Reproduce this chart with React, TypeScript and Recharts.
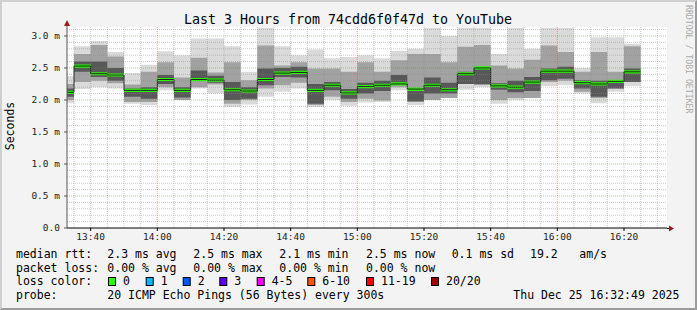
import React from 'react';
import { ComposedChart, Area, Line, XAxis, YAxis, CartesianGrid, ReferenceLine } from 'recharts';

// 5 minute bins, start time of each step
const binTimes = [
  '13:30', '13:35', '13:40', '13:45', '13:50', '13:55', '14:00', '14:05', '14:10', '14:15',
  '14:20', '14:25', '14:30', '14:35', '14:40', '14:45', '14:50', '14:55', '15:00', '15:05',
  '15:10', '15:15', '15:20', '15:25', '15:30', '15:35', '15:40', '15:45', '15:50', '15:55',
  '16:00', '16:05', '16:10', '16:15', '16:20',
];

// rtt in ms
const pingMin = [
  1.95, 2.17, 2.20, 2.18, 1.94, 1.92, 2.15, 2.00, 2.18, 2.10,
  1.89, 1.93, 2.05, 2.13, 2.18, 1.89, 2.00, 1.91, 1.96, 1.97,
  2.15, 1.92, 2.00, 2.03, 2.16, 2.20, 1.94, 2.00, 2.03, 2.22,
  2.23, 2.10, 1.95, 2.13, 2.22,
];
const pingMax = [
  2.37, 2.84, 2.92, 2.75, 2.42, 2.55, 2.76, 2.70, 2.96, 2.96,
  2.84, 2.44, 3.13, 2.84, 2.70, 2.79, 2.65, 2.67, 2.70, 2.65,
  2.77, 2.80, 3.13, 3.00, 3.13, 3.13, 2.72, 3.13, 2.80, 3.13,
  3.13, 2.50, 2.98, 2.98, 2.88,
];
const midLow = [
  2.00, 2.28, 2.30, 2.26, 1.97, 1.97, 2.20, 2.00, 2.20, 2.24,
  1.94, 2.00, 2.18, 2.23, 2.27, 1.92, 2.05, 1.97, 2.02, 1.99,
  2.20, 1.97, 2.00, 2.03, 2.25, 2.26, 2.00, 2.03, 2.03, 2.28,
  2.30, 2.13, 2.03, 2.18, 2.28,
];
const midHigh = [
  2.25, 2.72, 2.86, 2.68, 2.24, 2.44, 2.59, 2.35, 2.66, 2.43,
  2.59, 2.31, 2.85, 2.54, 2.59, 2.49, 2.49, 2.44, 2.59, 2.44,
  2.62, 2.72, 2.72, 2.59, 2.83, 2.86, 2.54, 2.49, 2.63, 2.85,
  2.75, 2.44, 2.75, 2.44, 2.84,
];
const darkLow = [
  2.05, 2.44, 2.36, 2.30, 2.05, 2.02, 2.25, 2.04, 2.33, 2.27,
  2.00, 2.02, 2.23, 2.36, 2.35, 1.94, 2.15, 2.02, 2.10, 2.14,
  2.25, 1.98, 2.10, 2.10, 2.25, 2.24, 2.16, 2.12, 2.14, 2.31,
  2.33, 2.18, 2.05, 2.18, 2.28,
];
const darkHigh = [
  2.18, 2.60, 2.60, 2.50, 2.18, 2.20, 2.39, 2.20, 2.46, 2.38,
  2.28, 2.20, 2.49, 2.50, 2.52, 2.25, 2.28, 2.17, 2.27, 2.30,
  2.39, 2.14, 2.35, 2.27, 2.44, 2.50, 2.26, 2.30, 2.36, 2.49,
  2.52, 2.31, 2.30, 2.31, 2.49,
];
const medianRtt = [
  2.12, 2.53, 2.41, 2.39, 2.15, 2.15, 2.32, 2.15, 2.32, 2.31,
  2.16, 2.14, 2.32, 2.42, 2.43, 2.15, 2.23, 2.11, 2.21, 2.23,
  2.25, 2.17, 2.23, 2.16, 2.41, 2.50, 2.22, 2.20, 2.28, 2.45,
  2.45, 2.27, 2.25, 2.29, 2.44,
];

const timeTicks = ['13:40', '14:00', '14:20', '14:40', '15:00', '15:20', '15:40', '16:00', '16:20'];
const yTicks = [0, 0.5, 1.0, 1.5, 2.0, 2.5, 3.0];

const toMin = (s: string) => {
  const [h, m] = s.split(':').map(Number);
  return h * 60 + m;
};
const fmtTime = (v: number) => `${Math.floor(v / 60)}:${String(Math.round(v % 60)).padStart(2, '0')}`;

// median band half thickness (smokeping draws the loss colour as a thin area)
const MED_W = 0.025;

const rows = binTimes.map((t, i) => ({
  t: toMin(t),
  outer: [pingMin[i], pingMax[i]],
  mid: [midLow[i], midHigh[i]],
  dark: [darkLow[i], darkHigh[i]],
  med: medianRtt[i],
  green: [medianRtt[i] - MED_W, medianRtt[i] + MED_W],
}));
// closing point so the last step gets its width
const last = rows[rows.length - 1];
const chartData = [...rows, { ...last, t: last.t + 5 }];

const X_START = 812.9;
const X_END = X_START + 180;

const minorX: number[] = [];
for (let m = 815; m <= 990; m += 5) if (m % 60 !== 0) minorX.push(m);
const majorX = [840, 900, 960];
const minorY: number[] = [];
for (let k = 1; k <= 31; k++) if (k % 5 !== 0) minorY.push(k / 10);
const majorY = [0.5, 1.0, 1.5, 2.0, 2.5, 3.0];

const mono = '"DejaVu Sans Mono", monospace';

const lossColors = [
  { label: '0', color: '#26ff00', x: 108 },
  { label: '1', color: '#00b8ff', x: 145.7 },
  { label: '2', color: '#0059ff', x: 182.7 },
  { label: '3', color: '#5e00ff', x: 219.3 },
  { label: '4-5', color: '#ff00ff', x: 256.7 },
  { label: '6-10', color: '#ff5500', x: 307.3 },
  { label: '11-19', color: '#ff0000', x: 366 },
  { label: '20/20', color: '#a10000', x: 431 },
];

export default function App() {
  return (
    <div style={{ position: 'absolute', left: 0, top: 0, width: 697, height: 310, fontFamily: mono }}>
      <div
        style={{
          position: 'absolute', inset: 0, boxSizing: 'border-box', background: '#f3f3f3',
          borderTop: '2px solid #cfcfcf', borderLeft: '2px solid #cfcfcf',
          borderRight: '2px solid #9c9c9c', borderBottom: '2px solid #9c9c9c',
        }}
      />
      <div style={{ position: 'absolute', left: 0, top: 0 }}>
        <ComposedChart width={697} height={310} data={chartData} margin={{ top: 27, right: 30, bottom: 62, left: 10 }}>
          <CartesianGrid fill="#ffffff" horizontal={false} vertical={false} />
          <XAxis
            type="number"
            dataKey="t"
            domain={[X_START, X_END]}
            allowDataOverflow
            ticks={timeTicks.map(toMin)}
            tickFormatter={fmtTime}
            height={20}
            tick={{ fontSize: 9.5, fontFamily: mono, fill: '#222' }}
            tickSize={3}
            tickMargin={2}
            axisLine={{ stroke: '#000' }}
            tickLine={{ stroke: '#000' }}
          />
          <YAxis
            type="number"
            domain={[0, 3.14]}
            allowDataOverflow
            ticks={yTicks}
            tickFormatter={(v: number) => (v === 0 ? '0.0' : `${v.toFixed(1)} m`)}
            width={57}
            tick={{ fontSize: 9.5, fontFamily: mono, fill: '#222' }}
            tickSize={3}
            tickMargin={4}
            axisLine={{ stroke: '#555' }}
            tickLine={{ stroke: '#555' }}
          />
          <Area type="stepAfter" dataKey="outer" fill="#dadada" fillOpacity={1} stroke="none" isAnimationActive={false} />
          <Area type="stepAfter" dataKey="mid" fill="#a2a2a2" fillOpacity={1} stroke="none" isAnimationActive={false} />
          <Area type="stepAfter" dataKey="dark" fill="#585858" fillOpacity={1} stroke="none" isAnimationActive={false} />
          <Line type="stepAfter" dataKey="med" stroke="#202020" strokeWidth={1} dot={false} isAnimationActive={false} />
          <Area type="stepAfter" dataKey="green" fill="#26ff00" fillOpacity={1} stroke="none" isAnimationActive={false} />
          {minorX.map((m) => (
            <ReferenceLine key={`mx${m}`} x={m} stroke="rgba(140,140,140,0.45)" strokeDasharray="1 1" />
          ))}
          {minorY.map((v) => (
            <ReferenceLine key={`my${v}`} y={v} stroke="rgba(140,140,140,0.45)" strokeDasharray="1 1" />
          ))}
          {majorX.map((m) => (
            <ReferenceLine key={`Mx${m}`} x={m} stroke="rgba(255,60,60,0.45)" strokeDasharray="1 1" />
          ))}
          {majorY.map((v) => (
            <ReferenceLine key={`My${v}`} y={v} stroke="rgba(255,60,60,0.45)" strokeDasharray="1 1" />
          ))}
        </ComposedChart>
      </div>
      <svg width={697} height={310} style={{ position: 'absolute', left: 0, top: 0, pointerEvents: 'none' }}>
        <line x1={67} y1={27} x2={67} y2={24} stroke="#555" />
        <polygon points="64,26 70,26 67,20" fill="#9e1b1b" />
        <line x1={667} y1={228.5} x2={670} y2={228.5} stroke="#000" />
        <polygon points="669,225.5 669,231.5 674,228.5" fill="#9e1b1b" />
        <text x={348} y={23.5} textAnchor="middle" fontSize={13.3} fontFamily={mono} fill="#000">
          Last 3 Hours from 74cdd6f0f47d to YouTube
        </text>
        <text transform="translate(14,126) rotate(-90)" textAnchor="middle" fontSize={11.5} fontFamily={mono} fill="#000">
          Seconds
        </text>
        <text transform="translate(685.5,5) rotate(90)" fontSize={8.2} fontFamily={mono} fill="#aaaaaa">
          RRDTOOL / TOBI OETIKER
        </text>
        <g fontSize={11.5} fontFamily={mono} fill="#000" style={{ whiteSpace: 'pre' }}>
          <text x={16} y={258}>median rtt:</text>
          <text x={107.3} y={258}>2.3 ms avg</text>
          <text x={193.3} y={258}>2.5 ms max</text>
          <text x={279.3} y={258}>2.1 ms min</text>
          <text x={366} y={258}>2.5 ms now</text>
          <text x={451.7} y={258}>0.1 ms sd</text>
          <text x={530} y={258}>19.2</text>
          <text x={579.3} y={258}>am/s</text>
          <text x={16} y={271.5}>packet loss:</text>
          <text x={107.3} y={271.5}>0.00 % avg</text>
          <text x={193.3} y={271.5}>0.00 % max</text>
          <text x={279.3} y={271.5}>0.00 % min</text>
          <text x={366} y={271.5}>0.00 % now</text>
          <text x={16} y={285}>loss color:</text>
          {lossColors.map((c) => (
            <g key={c.label}>
              <rect x={c.x + 0.5} y={277.5} width={7} height={8} fill={c.color} stroke="#000" />
              <text x={c.x + 15} y={285}>{c.label}</text>
            </g>
          ))}
          <text x={16} y={298.5}>probe:</text>
          <text x={107.3} y={298.5}>20 ICMP Echo Pings (56 Bytes) every 300s</text>
          <text x={513.3} y={298.5}>Thu Dec 25 16:32:49 2025</text>
        </g>
      </svg>
    </div>
  );
}
